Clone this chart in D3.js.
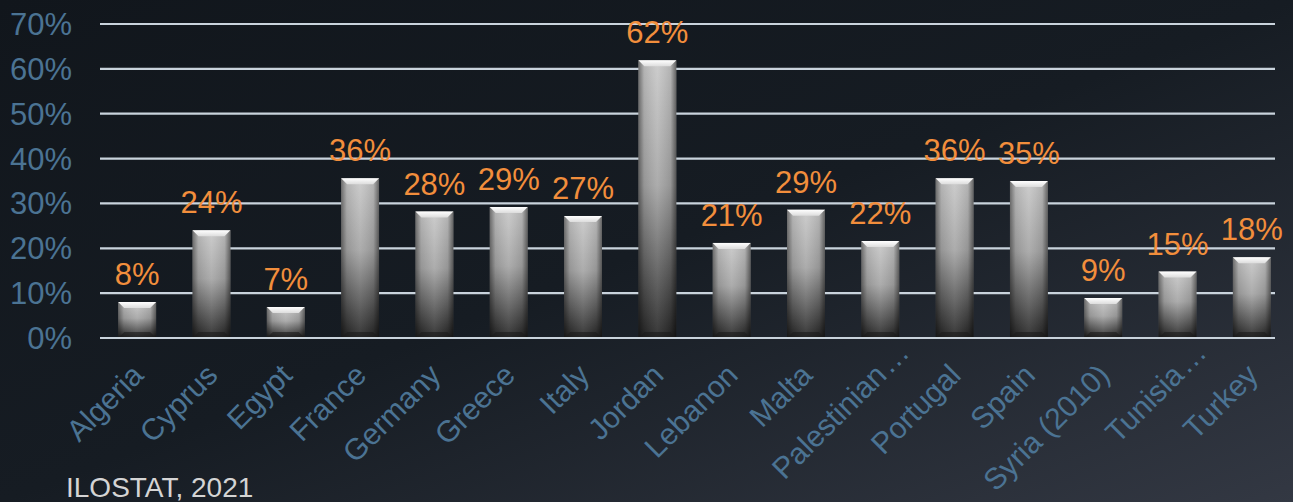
<!DOCTYPE html>
<html>
<head>
<meta charset="utf-8">
<script src="https://cdn.jsdelivr.net/npm/d3@7"></script>
<style>
  html, body { margin: 0; padding: 0; background: #13181e; }
  svg { display: block; font-family: "Liberation Sans", Arial, sans-serif; }
  .tickLabel { fill: #4b7393; font-size: 31px; }
  .catLabel, .ellipsis { fill: #4b7393; font-size: 30px; }
  .valueLabel { fill: #f28e3c; font-size: 31px; }
  .source { fill: #d4d4d4; font-size: 28px; }
</style>
</head>
<body>
<div id="chart"></div>
<script>
// data
const countries = ["Algeria", "Cyprus", "Egypt", "France", "Germany", "Greece", "Italy", "Jordan",
    "Lebanon", "Malta", "Palestinian\u2026", "Portugal", "Spain", "Syria (2010)", "Tunisia\u2026", "Turkey"];
const shares = [8.0, 24.0, 6.9, 35.6, 28.2, 29.2, 27.2, 61.9, 21.2, 28.6, 21.6, 35.6, 35.0, 8.9, 14.8, 18.0];
const yTicks = [0, 10, 20, 30, 40, 50, 60, 70];
const source = "ILOSTAT, 2021";

const W = 1293, H = 502;
const plot = {left: 100, right: 1275, top: 24, bottom: 338};

const svg = d3.select("#chart").append("svg")
    .attr("width", W)
    .attr("height", H);

const defs = svg.append("defs");

// background gradient, dark top-left to lighter slate bottom-right
const bg = defs.append("linearGradient").attr("id", "bg")
    .attr("x1", "0").attr("y1", "0").attr("x2", "1").attr("y2", "1");
bg.append("stop").attr("offset", "0%").attr("stop-color", "#11161c");
bg.append("stop").attr("offset", "50%").attr("stop-color", "#161c23");
bg.append("stop").attr("offset", "100%").attr("stop-color", "#333843");

// bar body: light on top, dark at the bottom
const barGrad = defs.append("linearGradient").attr("id", "barGrad")
    .attr("x1", "0").attr("y1", "0").attr("x2", "0").attr("y2", "1");
barGrad.append("stop").attr("offset", "0%").attr("stop-color", "#c9c9c9");
barGrad.append("stop").attr("offset", "45%").attr("stop-color", "#a5a5a5");
barGrad.append("stop").attr("offset", "100%").attr("stop-color", "#262626");

// darker edges left/right
const sideGrad = defs.append("linearGradient").attr("id", "sideGrad")
    .attr("x1", "0").attr("y1", "0").attr("x2", "1").attr("y2", "0");
sideGrad.append("stop").attr("offset", "0%").attr("stop-color", "#000").attr("stop-opacity", 0.45);
sideGrad.append("stop").attr("offset", "15%").attr("stop-color", "#000").attr("stop-opacity", 0.1);
sideGrad.append("stop").attr("offset", "50%").attr("stop-color", "#fff").attr("stop-opacity", 0.08);
sideGrad.append("stop").attr("offset", "85%").attr("stop-color", "#000").attr("stop-opacity", 0.1);
sideGrad.append("stop").attr("offset", "100%").attr("stop-color", "#000").attr("stop-opacity", 0.5);

// top bevel: white fading to grey
const bevelGrad = defs.append("linearGradient").attr("id", "bevelGrad")
    .attr("x1", "0").attr("y1", "0").attr("x2", "0").attr("y2", "1");
bevelGrad.append("stop").attr("offset", "0%").attr("stop-color", "#ffffff");
bevelGrad.append("stop").attr("offset", "100%").attr("stop-color", "#dcdcdc");

svg.append("rect")
    .attr("width", W)
    .attr("height", H)
    .attr("fill", "url(#bg)");

const x = d3.scaleBand()
    .domain(countries)
    .range([plot.left, 1289])
    .paddingInner(0.49)
    .paddingOuter(0.245);

const y = d3.scaleLinear()
    .domain([0, 70])
    .range([plot.bottom, plot.top]);

// grid lines
svg.selectAll("line.grid").data(yTicks)
    .enter()
    .append("line")
    .attr("class", "grid")
    .attr("x1", plot.left)
    .attr("x2", plot.right)
    .attr("y1", d => y(d))
    .attr("y2", d => y(d))
    .attr("stroke", "#c9d3dc")
    .attr("stroke-width", 2.2);

// y tick labels
svg.selectAll("text.tickLabel").data(yTicks)
    .enter()
    .append("text")
    .attr("class", "tickLabel")
    .attr("x", 72)
    .attr("y", d => y(d) + 11)
    .attr("text-anchor", "end")
    .text(d => d + "%");

// bars
const bars = svg.selectAll("g.bar").data(countries)
    .enter()
    .append("g")
    .attr("class", "bar");

const bw = x.bandwidth();
const bevel = 6;

bars.append("rect")
    .attr("x", d => x(d))
    .attr("y", (d, i) => y(shares[i]))
    .attr("width", bw)
    .attr("height", (d, i) => y(0) - y(shares[i]))
    .attr("fill", "url(#barGrad)");

bars.append("rect")
    .attr("x", d => x(d))
    .attr("y", (d, i) => y(shares[i]))
    .attr("width", bw)
    .attr("height", (d, i) => y(0) - y(shares[i]))
    .attr("fill", "url(#sideGrad)");

// top bevel highlight
bars.append("polygon")
    .attr("points", (d, i) => {
        const x0 = x(d), x1 = x(d) + bw, t = y(shares[i]);
        return [[x0, t], [x1, t], [x1 - bevel, t + bevel], [x0 + bevel, t + bevel]].join(" ");
    })
    .attr("fill", "url(#bevelGrad)");

// bottom bevel shade
bars.append("polygon")
    .attr("points", d => {
        const x0 = x(d), x1 = x(d) + bw, b = y(0);
        return [[x0, b], [x1, b], [x1 - bevel, b - bevel], [x0 + bevel, b - bevel]].join(" ");
    })
    .attr("fill", "#1a1a1a")
    .attr("opacity", 0.6);

// redraw the baseline over the bars
svg.append("line")
    .attr("x1", plot.left)
    .attr("x2", plot.right)
    .attr("y1", y(0))
    .attr("y2", y(0))
    .attr("stroke", "#c9d3dc")
    .attr("stroke-width", 2.2);

// value labels
svg.selectAll("text.valueLabel").data(countries)
    .enter()
    .append("text")
    .attr("class", "valueLabel")
    .attr("x", d => x(d) + bw / 2)
    .attr("y", (d, i) => y(shares[i]) - 17)
    .attr("text-anchor", "middle")
    .text((d, i) => Math.round(shares[i]) + "%");

// category labels, rotated; a trailing ellipsis hangs past the tick
const labelPos = d => "translate(" + (x(d) + bw / 2 + 8) + "," + 377 + ") rotate(-45)";

svg.selectAll("text.catLabel").data(countries)
    .enter()
    .append("text")
    .attr("class", "catLabel")
    .attr("text-anchor", "end")
    .attr("transform", labelPos)
    .text(d => d.replace("\u2026", ""));

svg.selectAll("text.ellipsis").data(countries.filter(d => d.endsWith("\u2026")))
    .enter()
    .append("text")
    .attr("class", "ellipsis")
    .attr("text-anchor", "start")
    .attr("transform", labelPos)
    .attr("dx", 2)
    .attr("letter-spacing", 0)
    .text("\u2026");

svg.append("text")
    .attr("class", "source")
    .attr("x", 66)
    .attr("y", 497)
    .text(source);
</script>
</body>
</html>
